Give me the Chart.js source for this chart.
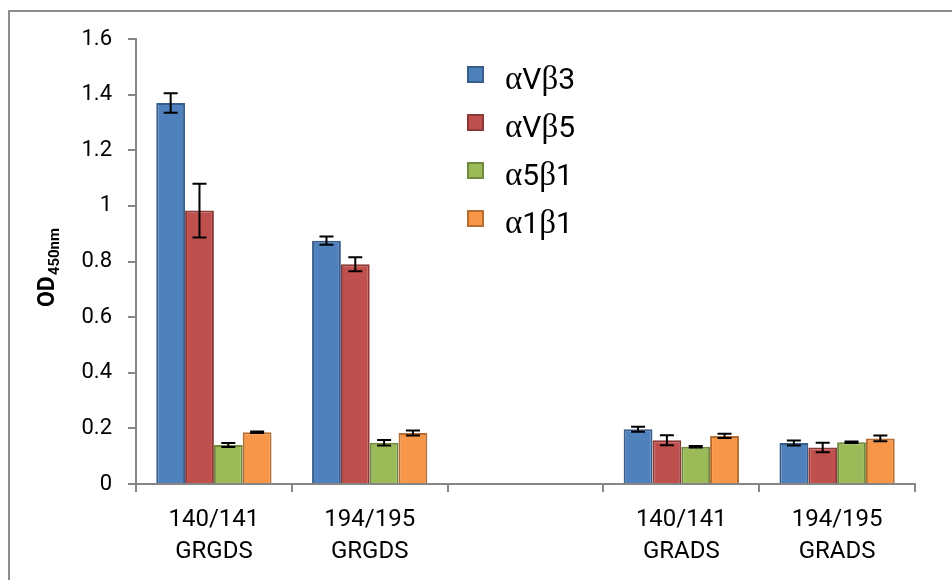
<!DOCTYPE html>
<html>
<head>
<meta charset="utf-8">
<script src="https://cdn.jsdelivr.net/npm/chart.js@4.4.0/dist/chart.umd.min.js"></script>
<style>
    html, body { margin: 0; padding: 0; background: #fff; }
</style>
</head>
<body>
<canvas id="chart" width="952" height="580"></canvas>
<script>
// Chart data
const categories = [['140/141', 'GRGDS'], ['194/195', 'GRGDS'], '', ['140/141', 'GRADS'], ['194/195', 'GRADS']];
const seriesNames = ['αVβ3', 'αVβ5', 'α5β1', 'α1β1'];
const avb3 = [1.37, 0.875, null, 0.197, 0.147];
const avb3Err = [0.035, 0.015, null, 0.009, 0.009];
const avb5 = [0.983, 0.79, null, 0.157, 0.131];
const avb5Err = [0.097, 0.025, null, 0.018, 0.017];
const a5b1 = [0.14, 0.148, null, 0.134, 0.15];
const a5b1Err = [0.007, 0.01, null, 0.003, 0.003];
const a1b1 = [0.186, 0.183, null, 0.173, 0.164];
const a1b1Err = [0.003, 0.009, null, 0.008, 0.01];
const yMax = 1.6;
const yStep = 0.2;
const yTitle = 'OD';
const yTitleSub = '450nm';

const fills = ['#4F81BD', '#C0504D', '#9BBB59', '#F79646'];
const borders = ['#385D8A', '#8C3836', '#71893F', '#B66D31'];
const values = [avb3, avb5, a5b1, a1b1];
const errors = [avb3Err, avb5Err, a5b1Err, a1b1Err];
const axisGray = '#868686';

// Error bars drawn from the bar elements and the y scale
const errorBars = {
    id: 'errorBars',
    afterDatasetsDraw(chart) {
        const ctx = chart.ctx;
        const y = chart.scales.y;
        ctx.save();
        ctx.strokeStyle = '#000';
        ctx.lineWidth = 2;
        chart.data.datasets.forEach((ds, i) => {
            chart.getDatasetMeta(i).data.forEach((bar, j) => {
                const v = ds.data[j];
                const e = ds.errors[j];
                if (v == null || e == null) return;
                const top = y.getPixelForValue(v + e);
                const bot = y.getPixelForValue(v - e);
                ctx.beginPath();
                ctx.moveTo(bar.x, top); ctx.lineTo(bar.x, bot);
                ctx.moveTo(bar.x - 7, top); ctx.lineTo(bar.x + 7, top);
                ctx.moveTo(bar.x - 7, bot); ctx.lineTo(bar.x + 7, bot);
                ctx.stroke();
            });
        });
        ctx.restore();
    }
};

// Legend inside the plot, axis title with subscript, outer frame
const decorations = {
    id: 'decorations',
    afterDraw(chart) {
        const ctx = chart.ctx;
        ctx.save();

        // frame
        ctx.strokeStyle = '#8c8c8c';
        ctx.lineWidth = 2;
        ctx.beginPath();
        ctx.moveTo(9, 580); ctx.lineTo(9, 11); ctx.lineTo(952, 11);
        ctx.stroke();

        // legend
        chart.data.datasets.forEach((ds, i) => {
            const cy = 75 + i * 48;
            ctx.fillStyle = ds.backgroundColor;
            ctx.strokeStyle = ds.borderColor;
            ctx.lineWidth = 2;
            ctx.fillRect(468, cy - 8, 15, 15);
            ctx.strokeRect(468, cy - 8, 15, 15);
            let x = 505;
            ctx.fillStyle = '#000';
            ctx.textBaseline = 'alphabetic';
            for (const ch of ds.label) {
                ctx.font = /[α-ω]/.test(ch) ? '33px "Liberation Serif"' : '30px Roboto';
                ctx.fillText(ch, x, cy + 14);
                x += ctx.measureText(ch).width;
            }
        });

        // y title
        ctx.translate(46, 268);
        ctx.rotate(-Math.PI / 2);
        ctx.fillStyle = '#000';
        ctx.font = 'bold 23px Roboto';
        const w1 = ctx.measureText(yTitle).width;
        ctx.font = 'bold 15px Roboto';
        const w2 = ctx.measureText(yTitleSub).width;
        const x0 = -(w1 + w2) / 2;
        ctx.font = 'bold 23px Roboto';
        ctx.fillText(yTitle, x0, 8);
        ctx.font = 'bold 15px Roboto';
        ctx.fillText(yTitleSub, x0 + w1 + 1, 13);
        ctx.restore();
    }
};

new Chart(document.getElementById('chart'), {
    type: 'bar',
    data: {
        labels: categories,
        datasets: seriesNames.map((name, i) => ({
            label: name,
            data: values[i],
            errors: errors[i],
            backgroundColor: fills[i],
            borderColor: borders[i],
            borderWidth: 2,
            barPercentage: 1,
            categoryPercentage: 0.74
        }))
    },
    options: {
        responsive: false,
        animation: false,
        layout: { padding: { top: 39, right: 37, left: 0, bottom: 0 } },
        plugins: {
            legend: { display: false },
            tooltip: { enabled: false }
        },
        scales: {
            x: {
                afterFit(scale) { scale.height = 96; },
                grid: {
                    drawOnChartArea: false,
                    color: axisGray,
                    lineWidth: 2,
                    tickLength: 8
                },
                border: { color: axisGray, width: 2 },
                ticks: {
                    color: '#000',
                    font: { family: 'Roboto', size: 24, lineHeight: 1.33 },
                    padding: 12,
                    maxRotation: 0,
                    autoSkip: false
                }
            },
            y: {
                min: 0,
                max: yMax,
                afterFit(scale) { scale.width = 136; },
                grid: {
                    drawOnChartArea: false,
                    color: axisGray,
                    lineWidth: 2,
                    tickLength: 8
                },
                border: { color: axisGray, width: 2 },
                ticks: {
                    stepSize: yStep,
                    color: '#000',
                    font: { family: 'Roboto', size: 22 },
                    padding: 16,
                    callback: v => String(+v.toFixed(1))
                }
            }
        }
    },
    plugins: [errorBars, decorations]
});
</script>
</body>
</html>
